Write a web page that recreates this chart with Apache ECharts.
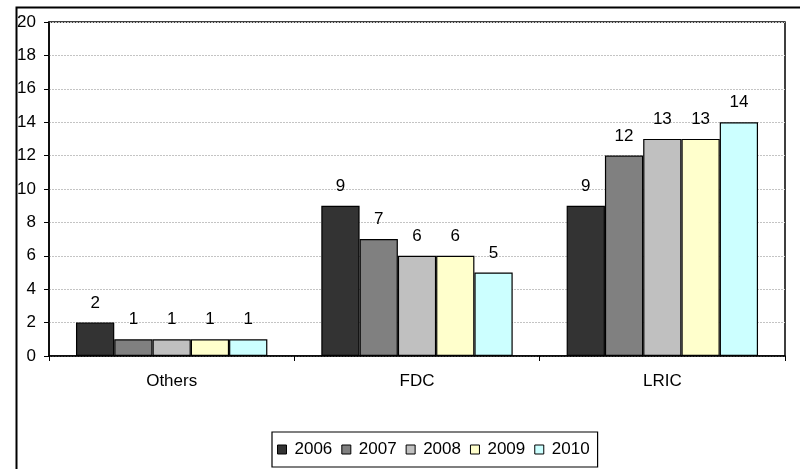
<!DOCTYPE html>
<html><head><meta charset="utf-8">
<script src="https://cdn.jsdelivr.net/npm/echarts@6/dist/echarts.min.js"></script>
<style>html,body{margin:0;padding:0;background:#fff}#c{width:800px;height:469px}</style>
</head><body><div id="c"></div>
<script>
const categories = ['Others', 'FDC', 'LRIC'];
const years = ['2006', '2007', '2008', '2009', '2010'];
const v2006 = [2, 9, 9];
const v2007 = [1, 7, 12];
const v2008 = [1, 6, 13];
const v2009 = [1, 6, 13];
const v2010 = [1, 5, 14];
const yTicks = [0, 2, 4, 6, 8, 10, 12, 14, 16, 18, 20];
const colors = ['#333333', '#808080', '#c0c0c0', '#ffffcc', '#ccffff'];
const values = [v2006, v2007, v2008, v2009, v2010];
const FONT = 'Liberation Sans';
const FS = 17;

const chart = echarts.init(document.getElementById('c'), null, {renderer: 'canvas'});
chart.setOption({
  animation: false,
  textStyle: {fontFamily: FONT},
  graphic: [{
    type: 'rect', left: 14, top: 5, z: -1,
    shape: {width: 800, height: 470},
    style: {fill: 'none', stroke: '#000', lineWidth: 2}
  }],
  grid: {left: 49, top: 22, right: 15, bottom: 113, show: true, borderColor: '#000', borderWidth: 1.5, backgroundColor: 'transparent'},
  legend: {
    data: years, left: 272, top: 432, orient: 'horizontal',
    icon: 'rect', itemWidth: 9, itemHeight: 9, itemGap: 9,
    padding: [9, 8, 9, 5],
    borderColor: '#000', borderWidth: 1.2,
    itemStyle: {borderColor: '#000', borderWidth: 1},
    textStyle: {fontFamily: FONT, fontSize: FS, color: '#000', padding: [0, 0, 0, 3]}
  },
  xAxis: {
    type: 'category', data: categories,
    axisLine: {lineStyle: {color: '#000', width: 1.5}},
    axisTick: {show: true, alignWithLabel: false, length: 5, lineStyle: {color: '#000'}},
    axisLabel: {fontFamily: FONT, fontSize: FS, color: '#000', margin: 17}
  },
  yAxis: {
    type: 'value', min: yTicks[0], max: yTicks[yTicks.length - 1], interval: 2,
    axisLine: {show: true, lineStyle: {color: '#000', width: 1.5}},
    axisTick: {show: true, length: 5, lineStyle: {color: '#000'}},
    axisLabel: {fontFamily: FONT, fontSize: FS, color: '#000', margin: 13},
    splitLine: {lineStyle: {color: '#c4c4c4', type: [2, 1], width: 1}}
  },
  series: years.map((y, i) => ({
    name: y, type: 'bar', data: values[i],
    barGap: '0%', barCategoryGap: '22%',
    itemStyle: {color: colors[i], borderColor: '#000', borderWidth: 1.2},
    label: {show: true, position: 'top', distance: 11, fontFamily: FONT, fontSize: FS, color: '#000'}
  }))
});
</script></body></html>
